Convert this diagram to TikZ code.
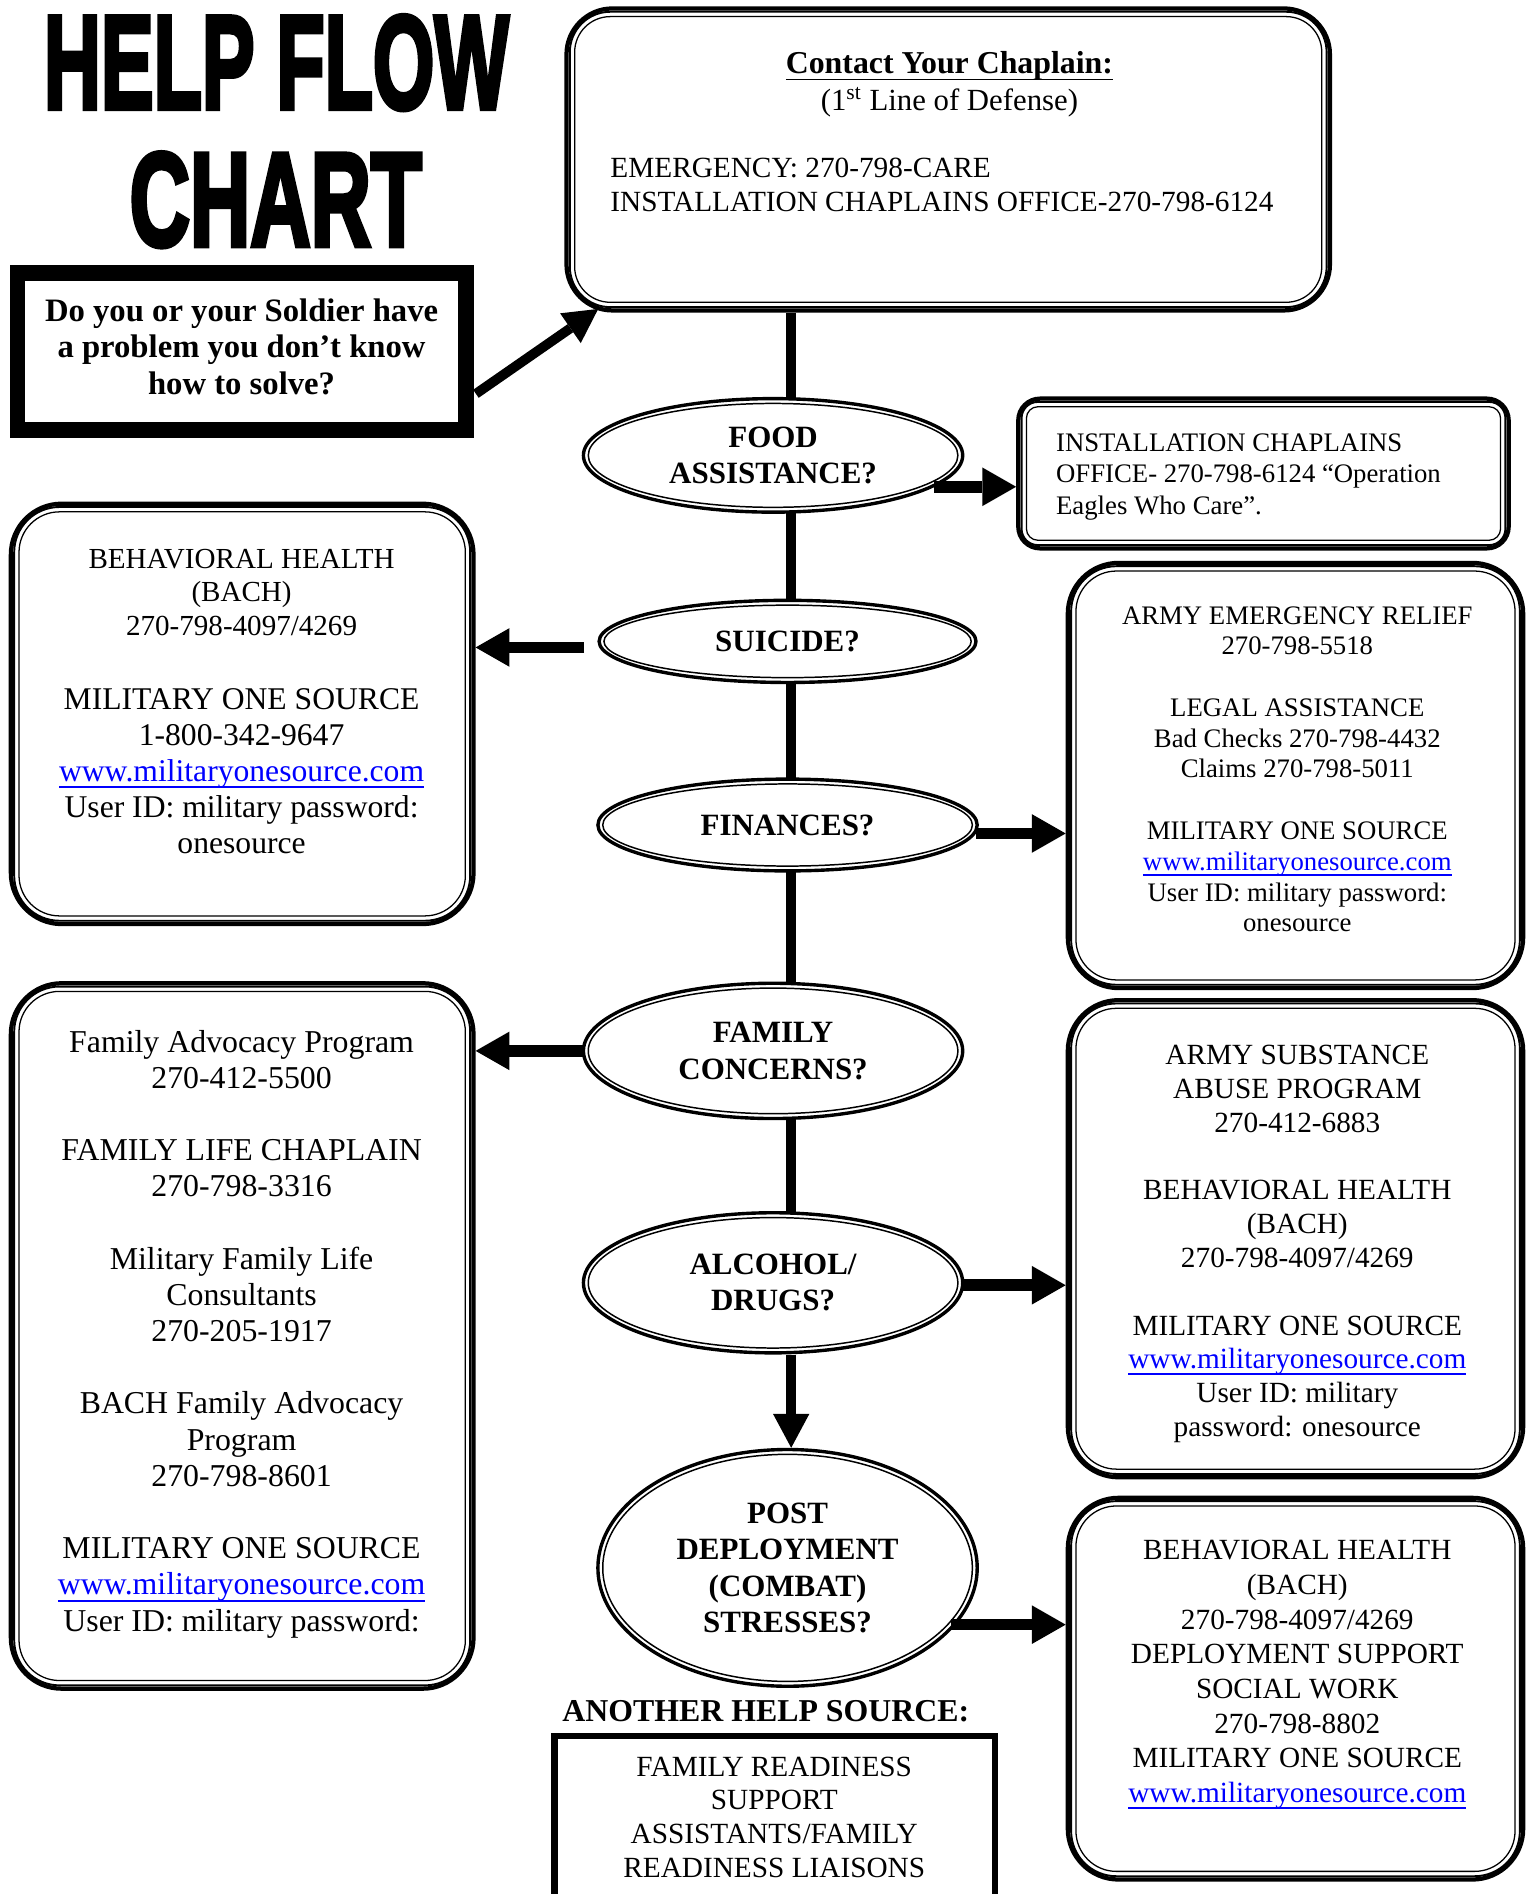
\documentclass[tikz,border=0pt]{standalone}
\usepackage{fontspec}
\setmainfont{Liberation Serif}
\newfontfamily\titlefont[FakeBold=4]{Liberation Sans Bold}
\usetikzlibrary{shapes.geometric,arrows.meta,backgrounds,calc}
\definecolor{linkblue}{RGB}{0,0,255}
\newcommand{\myul}[1]{\setbox0\hbox{#1}\rlap{\vrule height -0.15em depth 0.21em width \wd0}\box0}
\newcommand{\lnk}{\textcolor{linkblue}{\myul{www.militaryonesource.com}}}
% name, anchor, align, x, y(first line centre), size, bskip, extra font, content
\newcommand{\txt}[9]{\node[anchor=#2, inner sep=0pt, align=#3, font={#8\fontsize{#6}{#7}\selectfont\lineskiplimit=-50pt}] (#1) at ({#4},{#5-(0.7*#7-0.33*#6)/0.56905}) {\strut#9};}
% name, x1, y1, x2, y2, radius
\newcommand{\tribox}[6]{%
 \pgfmathsetlengthmacro\bw{(#4-#2)*0.02cm}%
 \pgfmathsetlengthmacro\bh{(#5-#3)*0.02cm}%
 \pgfmathsetlengthmacro\rA{#6*0.02cm}%
 \pgfmathsetlengthmacro\rB{(#6-4.5)*0.02cm}%
 \pgfmathsetlengthmacro\rC{(#6-8.5)*0.02cm}%
 \node[draw, line width=2pt, fill=white, rounded corners=\rA, minimum width=\bw, minimum height=\bh, inner sep=0pt] (#1) at ({(#2+#4)/2},{(#3+#5)/2}) {};
 \draw[line width=0.9pt, rounded corners=\rB] ([shift={(4.5,4.5)}]#1.north west) rectangle ([shift={(-4.5,-4.5)}]#1.south east);
 \draw[line width=0.6pt, rounded corners=\rC] ([shift={(8.5,8.5)}]#1.north west) rectangle ([shift={(-8.5,-8.5)}]#1.south east);
}
% name, cx, cy, rx, ry, text
\newcommand{\ovalq}[6]{%
 \pgfmathsetlengthmacro\ew{2*#4*0.02cm}%
 \pgfmathsetlengthmacro\eh{2*#5*0.02cm}%
 \node[ellipse, draw, line width=1.6pt, fill=white, minimum width=\ew, minimum height=\eh, inner sep=0pt, align=center, font={\bfseries\fontsize{14.6}{17.07}\selectfont}] (#1) at (#2,#3) {#6};
 \draw[line width=0.7pt] (#1.center) ellipse [x radius=#4-4, y radius=#5-4];
}
\tikzset{
 arr/.style={line width=5.5pt, -{Triangle[length=0.56cm,width=0.64cm,line width=0pt]}},
 qarr/.style={line width=4.6pt, -{Triangle[length=0.56cm,width=0.6cm,line width=0pt]}},
 spine/.style={line width=4.6pt},
}
\begin{document}
\begin{tikzpicture}[x=0.02cm,y=-0.02cm]
\useasboundingbox (0,0) rectangle (1263,1568);
\clip (0,0) rectangle (1263,1568);

% title
\node[anchor=north west,inner sep=0pt] (t1) at (36,12.5) {\resizebox{7.7cm}{1.54cm}{\titlefont HELP FLOW}};
\node[anchor=north west,inner sep=0pt] (t2) at (107,126) {\resizebox{4.84cm}{1.54cm}{\titlefont CHART}};

% question box
\node[draw, line width=7.4pt, minimum width=7.43cm, minimum height=2.6cm, inner sep=0pt] (q) at (200.25,291) {};
\txt{qt}{north}{center}{200}{257}{15.4}{17.07}{\bfseries}{Do you or your Soldier have\\a problem you don’t know\\how to solve?}

% top box
\tribox{top}{469}{7}{1101}{257}{38}
\txt{th}{north}{center}{786}{52}{15}{17.07}{\bfseries}{\myul{Contact Your Chaplain:}}
\txt{th2}{north}{center}{786}{83}{14.5}{17.07}{}{(1\textsuperscript{st} Line of Defense)}
\txt{tl}{north west}{left}{505}{139}{13.8}{15.93}{}{EMERGENCY: 270-798-CARE\\INSTALLATION CHAPLAINS OFFICE-270-798-6124}

% decision ellipses
\ovalq{food}{640}{377}{157}{47}{FOOD\\ASSISTANCE?}
\ovalq{sui}{652}{531}{156}{34}{SUICIDE?}
\ovalq{fin}{652}{683}{157}{38}{FINANCES?}
\ovalq{fam}{640}{870}{157}{56}{FAMILY\\CONCERNS?}
\ovalq{alc}{640}{1062}{157}{58}{ALCOHOL/\\DRUGS?}
\ovalq{post}{652}{1298}{157}{98}{POST\\DEPLOYMENT\\(COMBAT)\\STRESSES?}

% resource boxes
\tribox{fb}{843}{330}{1249}{454}{18}
\txt{fbt}{north west}{left}{874}{366}{12.6}{14.8}{}{INSTALLATION CHAPLAINS\\OFFICE- 270-798-6124 “Operation\\Eagles Who Care”.}

\tribox{lb1}{9}{417}{392}{765}{42}
\txt{lb1a}{north}{center}{200}{462}{13.7}{15.93}{}{BEHAVIORAL HEALTH\\(BACH)\\270-798-4097/4269}
\txt{lb1b}{north}{center}{200}{578}{14.9}{17.07}{}{MILITARY ONE SOURCE\\1-800-342-9647\\\lnk\\User ID: military password:\\onesource}

\tribox{rb1}{884}{466}{1261}{818}{42}
\txt{rb1t}{north}{center}{1074}{509}{12.6}{14.5}{}{ARMY EMERGENCY RELIEF\\270-798-5518\\[14.5pt]LEGAL ASSISTANCE\\Bad Checks 270-798-4432\\Claims 270-798-5011\\[14.5pt]MILITARY ONE SOURCE\\\lnk\\User ID: military password:\\onesource}

\tribox{lb2}{9}{814}{392}{1398}{42}
\txt{lb2t}{north}{center}{200}{862}{15}{17.07}{}{Family Advocacy Program\\270-412-5500\\[17pt]FAMILY LIFE CHAPLAIN\\270-798-3316\\[17pt]Military Family Life\\Consultants\\270-205-1917\\[17pt]BACH Family Advocacy\\Program\\270-798-8601\\[17pt]MILITARY ONE SOURCE\\\lnk\\User ID: military password:}

\tribox{rb2}{884}{828}{1261}{1223}{42}
\txt{rb2t}{north}{center}{1074}{873}{13.8}{15.93}{}{ARMY SUBSTANCE\\ABUSE PROGRAM\\270-412-6883\\[15.93pt]BEHAVIORAL HEALTH\\(BACH)\\270-798-4097/4269\\[15.93pt]MILITARY ONE SOURCE\\\lnk\\User ID: military\\password: onesource}

\tribox{rb3}{884}{1240}{1261}{1556}{42}
\txt{rb3t}{north}{center}{1074}{1283}{13.8}{16.33}{}{BEHAVIORAL HEALTH\\(BACH)\\270-798-4097/4269\\DEPLOYMENT SUPPORT\\SOCIAL WORK\\270-798-8802\\MILITARY ONE SOURCE\\\lnk}

% another help source
\txt{ahs}{north}{center}{634}{1416}{15}{17.07}{\bfseries}{ANOTHER HELP SOURCE:}
\node[draw, line width=3pt, minimum width=7.3cm, minimum height=3.72cm, inner sep=0pt] (frs) at (641.5,1530) {};
\txt{frst}{north}{center}{641}{1462}{13.8}{15.93}{}{FAMILY READINESS\\SUPPORT\\ASSISTANTS/FAMILY\\READINESS LIAISONS}

% connectors
\coordinate (sp) at (655,0);
\begin{scope}[on background layer]
\draw[spine] (top.south -| sp) -- (food.center -| sp);
\draw[spine] (food.center -| sp) -- (sui.center -| sp);
\draw[spine] (sui.center -| sp) -- (fin.center -| sp);
\draw[spine] (fin.center -| sp) -- (fam.center -| sp);
\draw[spine] (fam.center -| sp) -- (alc.center -| sp);
\end{scope}
\draw[qarr] (alc.south -| sp) -- (post.north -| sp);

\coordinate (qa) at (394,326);
\coordinate (ta) at ([shift={(28,-3)}]top.south west);
\draw[qarr] (qa) -- (ta);

\coordinate (fa) at ($(food.center)+(133,26)$);
\draw[arr] (fa) -- (fa -| fb.west);
\coordinate (sa) at ($(sui.west)+(-11,5)$);
\draw[arr] (sa) -- (sa -| lb1.east);
\coordinate (fia) at ($(fin.east)+(-2,7)$);
\draw[arr] (fia) -- (fia -| rb1.west);
\coordinate (fma) at ($(fam.west)+(2,0)$);
\draw[arr] (fma) -- (fma -| lb2.east);
\coordinate (aa) at ($(alc.east)+(-2,2)$);
\draw[arr] (aa) -- (aa -| rb2.west);
\coordinate (pa) at ($(post.center)+(135,47)$);
\draw[arr] (pa) -- (pa -| rb3.west);
\end{tikzpicture}
\end{document}
